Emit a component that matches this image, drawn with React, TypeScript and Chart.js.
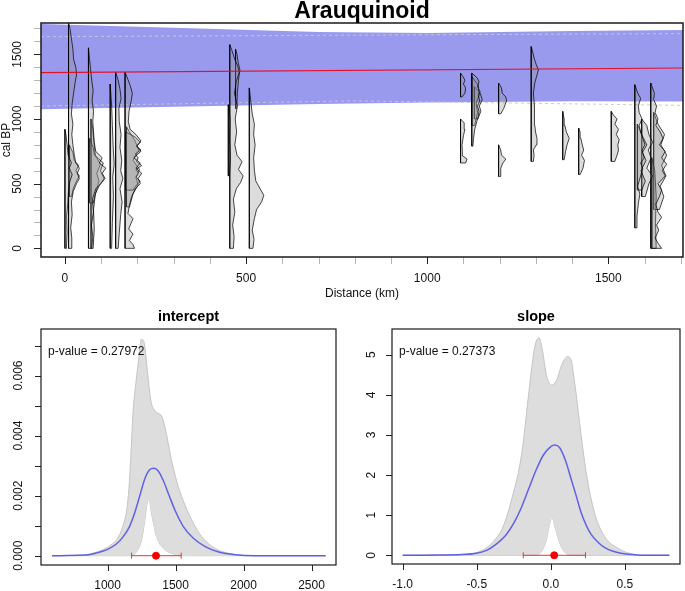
import React, { useEffect, useRef } from "react";
import { Chart, registerables } from "chart.js";

Chart.register(...registerables);

const FONT = '"Liberation Sans", Arial, Helvetica, sans-serif';
Chart.defaults.font.family = FONT;

// ---------------- Top panel (Arauquinoid) ----------------
const MAIN_TITLE = "Arauquinoid";
const TOP_X_TITLE = "Distance (km)";
const TOP_Y_TITLE = "cal BP";
const TOP_X_TICKS = [0, 500, 1000, 1500];
const TOP_Y_TICKS = [0, 500, 1000, 1500];
const TOP_X_MARKS = [0, 100, 200, 300, 400, 500, 600, 700, 800, 900, 1000, 1100, 1200, 1300, 1400, 1500, 1600, 1700];
const TOP_Y_MARKS = [0, 100, 200, 300, 400, 500, 600, 700, 800, 900, 1000, 1100, 1200, 1300, 1400, 1500, 1600, 1700];

// envelope of the sampled regression lines
const BAND_KM = [-66, 300, 700, 1000, 1400, 1706];
const BAND_UPPER_BP = [1735, 1705, 1672, 1665, 1680, 1688];
const BAND_LOWER_BP = [1075, 1095, 1115, 1128, 1138, 1136];
// dashed interval lines
const CI_KM = [-66, 800, 1706];
const CI_UPPER_BP = [1636, 1648, 1660];
const CI_LOWER_BP = [1100, 1140, 1105];
// fitted line
const FIT_KM = [-66, 1706];
const FIT_BP = [1358, 1394];

// baseline distance of every date-density profile (km)
const SITE_KM = [
  0, 10, 12, 65, 68, 72, 125, 140, 166, 168, 170, 451, 455, 471, 509,
  1092, 1092, 1123, 1123, 1130, 1197, 1197, 1287, 1374, 1418, 1508, 1573, 1580, 1592, 1617, 1620, 1625,
];
// profiles: [cal BP, width in km]
const SITE_PROFILES: number[][][] = [
  [[0,0],[0,4],[120,6],[250,5],[350,8],[450,10],[520,14],[570,20],[620,12],[660,18],[720,9],[800,6],[880,3],[920,0]],
  [[0,0],[0,7],[80,9],[160,6],[260,10],[360,8],[440,13],[500,22],[540,30],[580,24],[620,30],[660,20],[720,16],[800,12],[880,9],[960,12],[1040,8],[1120,10],[1200,14],[1280,18],[1340,22],[1400,20],[1460,14],[1540,12],[1620,8],[1700,4],[1742,0]],
  [[400,0],[400,6],[470,12],[520,20],[560,28],[600,18],[640,26],[680,14],[740,10],[800,0]],
  [[0,0],[0,9],[90,12],[180,8],[280,14],[380,11],[460,20],[500,34],[540,46],[580,38],[620,48],[660,30],[700,38],[750,20],[820,16],[900,14],[980,12],[1060,14],[1140,10],[1220,13],[1300,9],[1380,6],[1460,3],[1550,0]],
  [[350,0],[350,10],[420,16],[480,26],[540,40],[600,30],[660,38],[720,14],[780,10],[850,0]],
  [[0,0],[0,6],[150,9],[300,7],[420,12],[520,22],[580,16],[650,26],[720,12],[820,8],[920,5],[1000,0]],
  [[0,0],[0,4],[200,6],[400,9],[550,7],[650,11],[800,8],[950,6],[1100,4],[1270,0]],
  [[0,0],[0,7],[120,10],[260,14],[360,18],[460,12],[540,20],[600,14],[680,17],[780,12],[880,15],[980,10],[1080,9],[1160,15],[1230,12],[1300,7],[1360,0]],
  [[0,0],[0,26],[30,22],[60,12],[110,22],[150,10],[190,16],[230,22],[270,8],[330,12],[400,18],[460,28],[500,42],[540,36],[580,46],[620,30],[660,42],[700,24],[750,44],[790,32],[830,44],[880,30],[920,14],[980,9],[1060,11],[1140,17],[1200,20],[1260,14],[1320,6],[1360,0]],
  [[450,0],[450,20],[490,30],[520,40],[550,28],[580,36],[610,28],[640,44],[670,30],[700,34],[730,26],[760,42],[790,30],[820,40],[860,26],[900,0]],
  [[320,0],[320,8],[420,18],[490,32],[550,26],[610,36],[680,18],[760,34],[840,22],[900,8],[940,0]],
  [[560,0],[560,3],[700,6],[850,4],[1000,5],[1110,0]],
  [[0,0],[0,10],[90,12],[180,8],[280,14],[380,10],[460,18],[510,30],[560,37],[610,24],[670,34],[720,20],[800,14],[900,19],[1000,15],[1100,21],[1200,13],[1290,18],[1360,26],[1410,22],[1460,14],[1530,6],[1575,0]],
  [[1080,0],[1080,3],[1200,5],[1300,8],[1380,12],[1440,7],[1500,4],[1540,0]],
  [[0,0],[0,10],[70,13],[140,8],[230,14],[300,20],[360,34],[410,40],[460,30],[520,18],[600,14],[700,12],[800,16],[880,12],[960,14],[1040,8],[1140,4],[1240,0]],
  [[660,0],[660,14],[690,18],[715,6],[750,5],[800,4],[870,8],[920,12],[970,10],[1000,0]],
  [[1170,0],[1170,4],[1200,12],[1240,14],[1270,8],[1300,12],[1330,6],[1355,0]],
  [[790,0],[790,3],[850,5],[920,8],[980,14],[1020,18],[1060,20],[1100,16],[1140,22],[1180,18],[1210,23],[1250,16],[1290,20],[1320,14],[1355,0]],
  [[950,0],[950,8],[1050,16],[1120,12],[1180,20],[1260,18],[1330,0]],
  [[1000,0],[1000,10],[1060,18],[1100,14],[1150,22],[1200,16],[1250,0]],
  [[556,0],[556,4],[620,6],[660,12],[690,20],[720,8],[760,6],[800,0]],
  [[1040,0],[1040,6],[1080,14],[1140,22],[1170,20],[1200,10],[1240,8],[1278,0]],
  [[672,0],[672,6],[720,8],[760,6],[800,14],[850,16],[900,12],[950,10],[1000,8],[1100,10],[1200,6],[1280,10],[1340,16],[1380,20],[1420,14],[1470,8],[1520,4],[1560,0]],
  [[685,0],[685,4],[750,8],[800,12],[850,18],[900,10],[950,6],[1000,4],[1059,0]],
  [[570,0],[570,4],[620,12],[680,16],[720,8],[760,14],[800,10],[850,6],[900,4],[930,0]],
  [[672,0],[672,10],[720,16],[760,20],[800,18],[840,22],[880,14],[920,20],[960,10],[1000,16],[1030,6],[1059,0]],
  [[158,0],[158,4],[250,6],[350,10],[420,14],[480,8],[560,16],[620,22],[660,16],[700,26],[760,20],[800,28],[850,22],[900,16],[950,12],[1000,20],[1050,12],[1100,10],[1160,16],[1200,8],[1265,0]],
  [[450,0],[450,12],[520,22],[600,10],[680,24],[740,14],[800,26],[880,12],[960,0]],
  [[400,0],[400,10],[500,20],[560,30],[620,14],[700,26],[760,18],[820,30],[880,20],[950,14],[1000,0]],
  [[0,0],[0,30],[40,20],[80,12],[140,22],[180,16],[240,30],[280,20],[340,14],[400,24],[450,30],[500,20],[560,40],[600,32],[650,44],[700,30],[750,40],[800,24],[850,34],[900,26],[950,14],[1000,20],[1050,12],[1100,16],[1150,8],[1200,10],[1278,0]],
  [[0,0],[0,12],[200,10],[400,12],[600,8],[700,0]],
  [[300,0],[300,16],[400,28],[480,18],[560,34],[640,22],[720,36],[800,20],[880,30],[960,12],[1050,0]],
];

// ---------------- Intercept panel ----------------
const INT_TITLE = "intercept";
const INT_NOTE = "p-value = 0.27972";
const INT_X_TICKS = [1000, 1500, 2000, 2500];
const INT_Y_TICKS = [0, 0.002, 0.004, 0.006];
const INT_Y_MARKS = [0, 0.001, 0.002, 0.003, 0.004, 0.005, 0.006, 0.007];
const INT_UP_X = [591, 777, 851, 901, 950, 1025, 1074, 1111, 1144, 1161, 1173, 1188, 1205, 1228, 1248, 1267, 1292, 1317, 1342, 1371, 1396, 1421, 1446, 1475, 1520, 1569, 1631, 1693, 1792, 1891, 1990, 2089, 2604];
const INT_UP_Y = [0, 0.00001, 0.00004, 0.0001, 0.00017, 0.00036, 0.00058, 0.00097, 0.00163, 0.00252, 0.00352, 0.00486, 0.00563, 0.00652, 0.00721, 0.00713, 0.00619, 0.00519, 0.00486, 0.00474, 0.00466, 0.0043, 0.00374, 0.00308, 0.0023, 0.00169, 0.00108, 0.00063, 0.00024, 0.00008, 0.00001, 0, 0];
const INT_LO_X = [591, 1165, 1213, 1250, 1274, 1291, 1304, 1323, 1360, 1409, 1482, 1555, 2604];
const INT_LO_Y = [0, 0, 0.00013, 0.00052, 0.00119, 0.00175, 0.00188, 0.00141, 0.00063, 0.00025, 0.00006, 0, 0];
const INT_MEAN_X = [591, 827, 926, 1000, 1062, 1111, 1161, 1198, 1235, 1272, 1309, 1342, 1371, 1408, 1446, 1495, 1557, 1631, 1718, 1817, 1941, 2089, 2604];
const INT_MEAN_Y = [0, 0.00002, 0.0001, 0.00021, 0.00038, 0.00061, 0.00097, 0.00141, 0.00197, 0.00254, 0.00286, 0.00291, 0.00283, 0.00252, 0.00208, 0.00152, 0.00097, 0.00058, 0.0003, 0.00012, 0.00003, 0, 0];
const INT_EST = 1356;
const INT_CI = [1176, 1541];

// ---------------- Slope panel ----------------
const SLOPE_TITLE = "slope";
const SLOPE_NOTE = "p-value = 0.27373";
const SLOPE_X_TICKS = [-1.0, -0.5, 0.0, 0.5];
const SLOPE_Y_TICKS = [0, 1, 2, 3, 4, 5];
const SLOPE_UP_X = [-1.0, -0.65, -0.55, -0.49, -0.43, -0.375, -0.33, -0.29, -0.25, -0.219, -0.19, -0.174, -0.141, -0.107, -0.08, -0.058, -0.029, 0.004, 0.038, 0.071, 0.112, 0.134, 0.161, 0.194, 0.239, 0.295, 0.362, 0.451, 0.54, 0.63, 0.8];
const SLOPE_UP_Y = [0, 0.01, 0.03, 0.08, 0.2, 0.4, 0.65, 1.05, 1.6, 2.06, 2.7, 3.2, 4.3, 5.22, 5.42, 5.14, 4.48, 4.24, 4.35, 4.72, 4.95, 4.9, 4.3, 3.31, 2.06, 1.06, 0.475, 0.18, 0.04, 0, 0];
const SLOPE_LO_X = [-1.0, -0.095, -0.062, -0.029, -0.01, 0.009, 0.025, 0.049, 0.083, 0.128, 0.15, 0.8];
const SLOPE_LO_Y = [0, 0, 0.1, 0.39, 0.75, 0.95, 0.75, 0.43, 0.125, 0.01, 0, 0];
const SLOPE_MEAN_X = [-1.0, -0.75, -0.6, -0.5, -0.43, -0.375, -0.3, -0.25, -0.2, -0.15, -0.1, -0.05, 0.0, 0.027, 0.06, 0.1, 0.138, 0.17, 0.205, 0.24, 0.272, 0.32, 0.362, 0.42, 0.473, 0.585, 0.7, 0.8];
const SLOPE_MEAN_Y = [0, 0.005, 0.02, 0.05, 0.13, 0.26, 0.52, 0.8, 1.18, 1.65, 2.12, 2.5, 2.71, 2.75, 2.68, 2.35, 1.89, 1.5, 1.06, 0.74, 0.52, 0.32, 0.2, 0.1, 0.05, 0.008, 0, 0];
const SLOPE_EST = 0.023;
const SLOPE_CI = [-0.186, 0.234];

// ---------------- helpers ----------------
const pts = (xs: number[], ys: number[]) => xs.map((x, i) => ({ x, y: ys[i] }));

type PanelText = {
  title: string;
  titleFont: string;
  titleY: number;
  xTicks: number[];
  yTicks: number[];
  xMarks: number[];
  yMarks: number[];
  tickLen: number;
  fmtX: (v: number) => string;
  fmtY: (v: number) => string;
  xGap: number;
  yGap: number;
  xTitle?: string;
  xTitleGap?: number;
  yTitle?: string;
  yTitleX?: number;
  note?: string;
  boxWidth: number;
};

// box, tick marks and all text of an R-style panel, placed through the chart's scales
function panelPlugin(t: PanelText) {
  return {
    id: "panelText",
    afterDraw(chart: any) {
      const { ctx, chartArea: a } = chart;
      const xs = chart.scales.x;
      const ys = chart.scales.y;
      ctx.save();
      // tick marks
      ctx.lineWidth = 1;
      t.xMarks.forEach((v) => {
        const px = Math.round(xs.getPixelForValue(v)) + 0.5;
        ctx.strokeStyle = t.xTicks.includes(v) ? "#222" : "#b5b5b5";
        ctx.beginPath();
        ctx.moveTo(px, a.bottom);
        ctx.lineTo(px, a.bottom + t.tickLen);
        ctx.stroke();
      });
      t.yMarks.forEach((v) => {
        const py = Math.round(ys.getPixelForValue(v)) + 0.5;
        ctx.strokeStyle = t.yTicks.includes(v) || t.yTicks.length === 4 && t.yMarks.length === 8 ? "#222" : "#b5b5b5";
        ctx.beginPath();
        ctx.moveTo(a.left, py);
        ctx.lineTo(a.left - t.tickLen, py);
        ctx.stroke();
      });
      // box
      ctx.strokeStyle = "#1a1a1a";
      ctx.lineWidth = t.boxWidth;
      ctx.strokeRect(a.left, a.top, a.right - a.left, a.bottom - a.top);
      // text
      ctx.fillStyle = "#000";
      ctx.textAlign = "center";
      ctx.textBaseline = "middle";
      ctx.font = t.titleFont;
      ctx.fillText(t.title, (a.left + a.right) / 2, t.titleY);
      ctx.font = `12px ${FONT}`;
      ctx.fillStyle = "#111";
      t.xTicks.forEach((v) => ctx.fillText(t.fmtX(v), xs.getPixelForValue(v), a.bottom + t.xGap));
      t.yTicks.forEach((v) => {
        ctx.save();
        ctx.translate(a.left - t.yGap, ys.getPixelForValue(v));
        ctx.rotate(-Math.PI / 2);
        ctx.fillText(t.fmtY(v), 0, 0);
        ctx.restore();
      });
      if (t.xTitle) ctx.fillText(t.xTitle, (a.left + a.right) / 2, a.bottom + (t.xTitleGap || 36));
      if (t.yTitle) {
        ctx.save();
        ctx.translate(t.yTitleX || 7, (a.top + a.bottom) / 2);
        ctx.rotate(-Math.PI / 2);
        ctx.fillText(t.yTitle, 0, 0);
        ctx.restore();
      }
      if (t.note) {
        ctx.textAlign = "left";
        ctx.fillText(t.note, a.left + 7, a.top + 23);
      }
      ctx.restore();
    },
  };
}

function axis(min: number, max: number, size: number) {
  return {
    type: "linear",
    min,
    max,
    ticks: { display: false },
    grid: { display: false, drawOnChartArea: false, drawTicks: false },
    border: { display: false },
    afterFit: (s: any) => {
      if (s.isHorizontal()) s.height = size;
      else s.width = size;
    },
  };
}

const baseOptions = (padding: any, xAxis: any, yAxis: any) => ({
  responsive: false,
  animation: false,
  devicePixelRatio: 1,
  events: [],
  layout: { padding },
  elements: { point: { radius: 0 }, line: { tension: 0, borderJoinStyle: "round" } },
  plugins: { legend: { display: false }, title: { display: false }, tooltip: { enabled: false } },
  scales: { x: xAxis, y: yAxis },
});

function buildTop(canvas: HTMLCanvasElement) {
  const profiles = SITE_KM.map((base, i) => {
    const shape = SITE_PROFILES[i];
    const data = shape.map(([yr, w]) => ({ x: base + w, y: yr }));
    data.push({ x: base, y: shape[0][0] });
    return {
      data,
      borderColor: "rgba(0,0,0,0.9)",
      borderWidth: 0.8,
      backgroundColor: "rgba(150,150,150,0.33)",
      fill: "shape",
      order: 10,
    };
  });
  const datasets: any[] = [
    { data: pts(FIT_KM, FIT_BP), borderColor: "rgba(240,0,20,0.9)", borderWidth: 1.2, fill: false, order: 1 },
    ...profiles,
    { data: pts(CI_KM, CI_UPPER_BP), borderColor: "rgba(200,200,200,0.95)", borderWidth: 1, borderDash: [3, 3], fill: false, order: 50 },
    { data: pts(CI_KM, CI_LOWER_BP), borderColor: "rgba(200,200,200,0.95)", borderWidth: 1, borderDash: [3, 3], fill: false, order: 51 },
    { data: pts(BAND_KM, BAND_UPPER_BP), borderWidth: 0, borderColor: "rgba(0,0,0,0)", backgroundColor: "rgb(153,153,238)", fill: "+1", order: 100 },
    { data: pts(BAND_KM, BAND_LOWER_BP), borderWidth: 0, borderColor: "rgba(0,0,0,0)", fill: false, order: 101 },
  ];
  return new Chart(canvas, {
    type: "line",
    data: { datasets },
    options: baseOptions({ left: 0, right: 2, top: 23, bottom: 0 }, axis(-66, 1706, 43), axis(-67, 1742, 41)) as any,
    plugins: [
      panelPlugin({
        title: MAIN_TITLE,
        titleFont: `bold 23px ${FONT}`,
        titleY: 12,
        xTicks: TOP_X_TICKS,
        yTicks: TOP_Y_TICKS,
        xMarks: TOP_X_MARKS,
        yMarks: TOP_Y_MARKS,
        tickLen: 7,
        fmtX: (v) => String(v),
        fmtY: (v) => String(v),
        xGap: 22,
        yGap: 23,
        xTitle: TOP_X_TITLE,
        xTitleGap: 37,
        yTitle: TOP_Y_TITLE,
        yTitleX: 7,
        boxWidth: 1.5,
      }),
    ],
  } as any);
}

function buildDensity(
  canvas: HTMLCanvasElement,
  upX: number[], upY: number[], loX: number[], loY: number[], mX: number[], mY: number[],
  est: number, ci: number[],
  xAxis: any, yAxis: any, padding: any, text: PanelText
) {
  const smooth = { cubicInterpolationMode: "monotone" };
  const datasets: any[] = [
    { data: [{ x: est, y: 0 }], showLine: false, pointRadius: 3.5, pointBackgroundColor: "rgb(245,0,0)", pointBorderColor: "rgb(245,0,0)", order: 1 },
    {
      data: [{ x: ci[0], y: 0 }, { x: ci[1], y: 0 }],
      borderColor: "rgb(240,50,50)", borderWidth: 1, fill: false,
      pointStyle: "line", pointRotation: 90, pointRadius: 3,
      pointBorderColor: "rgb(240,50,50)", pointBorderWidth: 1, order: 2,
    },
    { data: pts(mX, mY), borderColor: "rgba(75,75,230,0.85)", borderWidth: 1.5, fill: false, order: 3, ...smooth },
    { data: pts(upX, upY), borderColor: "rgb(196,196,196)", borderWidth: 1, backgroundColor: "rgb(221,221,221)", fill: "+1", order: 4, ...smooth },
    { data: pts(loX, loY), borderColor: "rgb(196,196,196)", borderWidth: 1, fill: false, order: 5, ...smooth },
  ];
  return new Chart(canvas, {
    type: "line",
    data: { datasets },
    options: baseOptions(padding, xAxis, yAxis) as any,
    plugins: [panelPlugin(text)],
  } as any);
}

export default function App() {
  const topRef = useRef<HTMLCanvasElement>(null);
  const intRef = useRef<HTMLCanvasElement>(null);
  const slopeRef = useRef<HTMLCanvasElement>(null);

  useEffect(() => {
    const charts = [
      buildTop(topRef.current!),
      buildDensity(
        intRef.current!, INT_UP_X, INT_UP_Y, INT_LO_X, INT_LO_Y, INT_MEAN_X, INT_MEAN_Y, INT_EST, INT_CI,
        axis(510, 2680, 26), axis(-0.00031, 0.00755, 41),
        { left: 0, right: 9, top: 29, bottom: 0 },
        {
          title: INT_TITLE, titleFont: `bold 14.5px ${FONT}`, titleY: 17,
          xTicks: INT_X_TICKS, yTicks: INT_Y_TICKS, xMarks: INT_X_TICKS, yMarks: INT_Y_MARKS, tickLen: 6,
          fmtX: (v) => String(v), fmtY: (v) => v.toFixed(3),
          xGap: 21, yGap: 22, note: INT_NOTE, boxWidth: 1.2,
        }
      ),
      buildDensity(
        slopeRef.current!, SLOPE_UP_X, SLOPE_UP_Y, SLOPE_LO_X, SLOPE_LO_Y, SLOPE_MEAN_X, SLOPE_MEAN_Y, SLOPE_EST, SLOPE_CI,
        axis(-1.072, 0.872, 27), axis(-0.217, 5.64, 47),
        { left: 0, right: 1, top: 29, bottom: 0 },
        {
          title: SLOPE_TITLE, titleFont: `bold 14.5px ${FONT}`, titleY: 17,
          xTicks: SLOPE_X_TICKS, yTicks: SLOPE_Y_TICKS, xMarks: SLOPE_X_TICKS, yMarks: SLOPE_Y_TICKS, tickLen: 6,
          fmtX: (v) => v.toFixed(1), fmtY: (v) => String(v),
          xGap: 21, yGap: 20, note: SLOPE_NOTE, boxWidth: 1.2,
        }
      ),
    ];
    return () => charts.forEach((c) => c.destroy());
  }, []);

  const abs = (left: number, top: number, width: number, height: number): React.CSSProperties => ({
    position: "absolute", left, top, width, height, display: "block",
  });

  return (
    <div style={{ position: "absolute", left: 0, top: 0, width: 685, height: 591, background: "#fff" }}>
      <canvas ref={topRef} width={685} height={300} style={abs(0, 0, 685, 300)} />
      <canvas ref={intRef} width={345} height={291} style={abs(0, 300, 345, 291)} />
      <canvas ref={slopeRef} width={340} height={291} style={abs(345, 300, 340, 291)} />
    </div>
  );
}
